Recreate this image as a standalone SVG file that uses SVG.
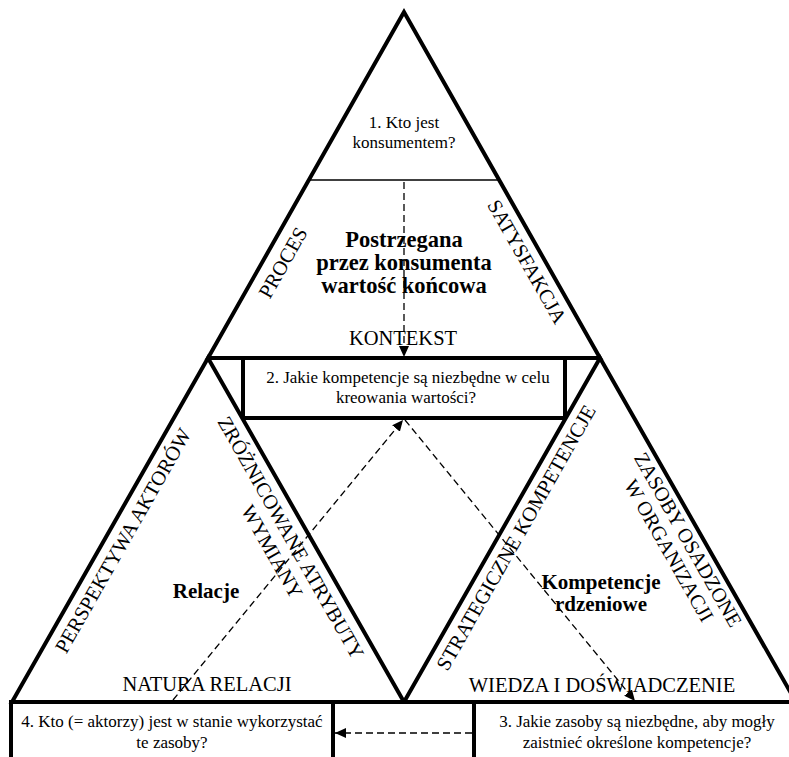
<svg xmlns="http://www.w3.org/2000/svg" width="789" height="757" viewBox="0 0 789 757">
<style>
.thick{fill:none;stroke:#000;stroke-width:4;stroke-linejoin:miter}
.thin{fill:none;stroke:#000;stroke-width:1.5}
.dash{fill:none;stroke:#000;stroke-width:1.3;stroke-dasharray:7 4}
text{font-family:'Liberation Serif','Times New Roman','DejaVu Serif',serif;fill:#000;text-anchor:middle}
.q{font-size:17px}
.cap{font-size:20.5px}
.b{font-size:21px;font-weight:bold}
.bt{font-size:22.5px;font-weight:bold}
</style>
<defs>
<marker id="ah" markerWidth="12" markerHeight="10" refX="11" refY="5" orient="auto" markerUnits="userSpaceOnUse">
<path d="M0,0 L11,5 L0,10 Z" fill="#000"/>
</marker>
</defs>
<rect width="789" height="757" fill="#fff"/>

<g id="node-consumer">
<polygon class="thick" points="404,12 208,358 600,358"/>
<line class="thin" x1="309" y1="180" x2="499" y2="180"/>
<text class="q" x="404" y="128">1. Kto jest</text>
<text class="q" x="404" y="148">konsumentem?</text>
<text class="bt" x="404" y="247">Postrzegana</text>
<text class="bt" x="404" y="270">przez konsumenta</text>
<text class="bt" x="404" y="293">wartość końcowa</text>
<text class="cap" x="403" y="345">KONTEKST</text>
<text class="cap" transform="translate(289,266) rotate(-60.4)">PROCES</text>
<text class="cap" transform="translate(521,265) rotate(60.4)">SATYSFAKCJA</text>
</g>

<g id="node-relations">
<polygon class="thick" points="208,358 12,702 404,702"/>
<text class="cap" transform="translate(129,544) rotate(-60.4)">PERSPEKTYWA AKTORÓW</text>
<text class="cap" transform="translate(285,541) rotate(60.4)">ZRÓŻNICOWANE ATRYBUTY</text>
<text class="cap" transform="translate(266,555) rotate(60.4)">WYMIANY</text>
<text class="b" x="206" y="598">Relacje</text>
<text class="cap" x="207" y="691">NATURA RELACJI</text>
</g>

<g id="node-core">
<polygon class="thick" points="600,358 404,702 796,702"/>
<text class="cap" transform="translate(522,541) rotate(-60.4)">STRATEGICZNE KOMPETENCJE</text>
<text class="cap" transform="translate(682,543) rotate(60.4)">ZASOBY OSADZONE</text>
<text class="cap" transform="translate(663,554) rotate(60.4)">W ORGANIZACJI</text>
<text class="b" x="601" y="589">Kompetencje</text>
<text class="b" x="601" y="611">rdzeniowe</text>
<text class="cap" x="602" y="692">WIEDZA I DOŚWIADCZENIE</text>
</g>

<g id="node-q2">
<rect class="thick" x="243" y="358" width="322" height="60"/>
<text class="q" x="408" y="383">2. Jakie kompetencje są niezbędne w celu</text>
<text class="q" x="406" y="403">kreowania wartości?</text>
</g>

<g id="node-base">
<line class="thick" x1="9" y1="702" x2="789" y2="702"/>
</g>

<g id="node-q4">
<polyline class="thick" points="11,757 11,702 333,702 333,757"/>
<text class="q" x="172" y="727">4. Kto (= aktorzy) jest w stanie wykorzystać</text>
<text class="q" x="172" y="748">te zasoby?</text>
</g>

<g id="node-q3">
<polyline class="thick" points="474,757 474,702 789,702"/>
<text class="q" x="637" y="727">3. Jakie zasoby są niezbędne, aby mogły</text>
<text class="q" x="637" y="748">zaistnieć określone kompetencje?</text>
</g>

<g id="connectors">
<line class="dash" x1="404" y1="182" x2="404" y2="357" marker-end="url(#ah)"/>
<line class="dash" x1="173" y1="700" x2="403" y2="420" marker-end="url(#ah)"/>
<line class="dash" x1="405" y1="420" x2="635" y2="701" marker-end="url(#ah)"/>
<line class="dash" x1="472" y1="733" x2="335" y2="733" marker-end="url(#ah)"/>
</g>
</svg>
